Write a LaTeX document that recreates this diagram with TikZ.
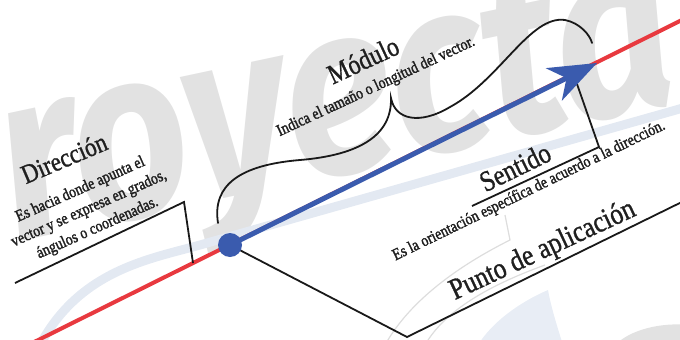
\documentclass[tikz,border=0pt]{standalone}
\usepackage{fontspec}
\setmainfont{Liberation Serif}
\newfontfamily\cond[FakeStretch=0.85,FakeBold=1.0]{Liberation Serif}
\newfontfamily\condb[FakeStretch=0.85,FakeBold=1.6]{Liberation Serif}
\newfontfamily\wmfont[FakeStretch=0.85]{Fira Sans}
\usetikzlibrary{arrows.meta}
\definecolor{vred}{HTML}{E8393F}
\definecolor{vblue}{HTML}{3A5BAE}
\definecolor{wmgray}{HTML}{E2E2E2}
\definecolor{bandblue}{HTML}{E3E9F2}
\definecolor{blobblue}{HTML}{E8EDF5}
\definecolor{arcgray}{HTML}{DDDDDD}
\begin{document}
\begin{tikzpicture}[x=1pt,y=-1pt,
  title/.style={font=\cond\fontsize{28}{30}\selectfont, inner sep=0pt, text=black!88},
  desc/.style={font=\condb\fontsize{16.5}{21}\selectfont, inner sep=0pt, align=center, text=black!88},
  guide/.style={line width=1.8pt, black!90, line join=miter},
  redline/.style={line width=4pt, vred},
  vec/.style={line width=5pt, vblue, -{Stealth[length=48pt,width=36pt,inset=14pt]}},
  band/.style={line width=9pt, bandblue},
  faint/.style={line width=1.2pt, arcgray},
]
\useasboundingbox (0,0) rectangle (680,340);
\begin{scope}
\clip (0,0) rectangle (680,340);
% watermark
\node[anchor=base, rotate=12, text=wmgray, inner sep=0pt,
      font=\wmfont\bfseries\itshape\fontsize{240}{240}\selectfont] (wm) at (292,184) {proyecta};
% faint background shapes
\draw[band] (40,345) .. controls (80,270) and (150,259) .. (200,245) -- (690,106);
\fill[blobblue] (548,290) .. controls (520,302) and (492,322) .. (478,345) -- (563,345)
   .. controls (555,320) and (550,302) .. (548,290) -- cycle;
\fill[wmgray] (615,345) .. controls (630,330) and (660,322) .. (690,325) -- (690,345) -- cycle;
\draw[faint] (505,215) -- (510,240) .. controls (460,265) and (410,300) .. (385,345);
\draw[faint] (545,265) .. controls (490,285) and (445,310) .. (425,345);
% coordinates
\coordinate (R0) at (0,359);
\coordinate (R1) at (690,16);
\coordinate (Pc) at (230,245);
\coordinate (T) at (597,63);
\coordinate (D1) at (15,283);
\coordinate (D2) at (184,202);
\coordinate (D3) at (193,263);
\coordinate (S1) at (577,84);
\coordinate (S2) at (599,147);
\coordinate (S3) at (472,206);
\coordinate (Q) at (407,337);
\coordinate (Q2) at (690,198);
% red line of action
\draw[redline] (R0) -- (R1);
% guides
\draw[guide] (D1) -- (D2) -- (D3);
\draw[guide] (Pc) -- (Q) -- (Q2);
\draw[guide] (S3) -- (S2) -- (S1);
% brace (Modulo)
\draw[guide, line cap=round] (218,223) .. controls (212,185) and (240,165) .. (300,160)
   .. controls (360,155) and (392,135) .. (391,98)
   .. controls (395,120) and (420,125) .. (450,107)
   .. controls (500,80) and (530,15) .. (565,20)
   .. controls (580,23) and (590,35) .. (592,43);
% vector
\draw[vec] (Pc) -- (T);
\node[circle, fill=vblue, minimum size=24pt, inner sep=0pt] (P) at (Pc) {};
% texts
\node[title, rotate=23, font=\cond\fontsize{27}{30}\selectfont] (dirT) at (64,158) {Dirección};
\node[desc, rotate=24] (dirD) at (89,209) {Es hacia donde apunta el\\vector y se expresa en grados,\\ángulos o coordenadas.};
\node[title, rotate=25] (modT) at (363,60) {Módulo};
\node[desc, rotate=25] (modD) at (376,87) {Indica el tamaño o longitud del vector.};
\node[title, rotate=26, font=\cond\fontsize{29}{30}\selectfont] (senT) at (515,167) {Sentido};
\node[desc, rotate=26] (senD) at (529,191) {Es la orientación específica de acuerdo a la dirección.};
\node[title, rotate=25, font=\cond\fontsize{30}{30}\selectfont] (punT) at (543,251) {Punto de aplicación};
\end{scope}
\end{tikzpicture}
\end{document}
